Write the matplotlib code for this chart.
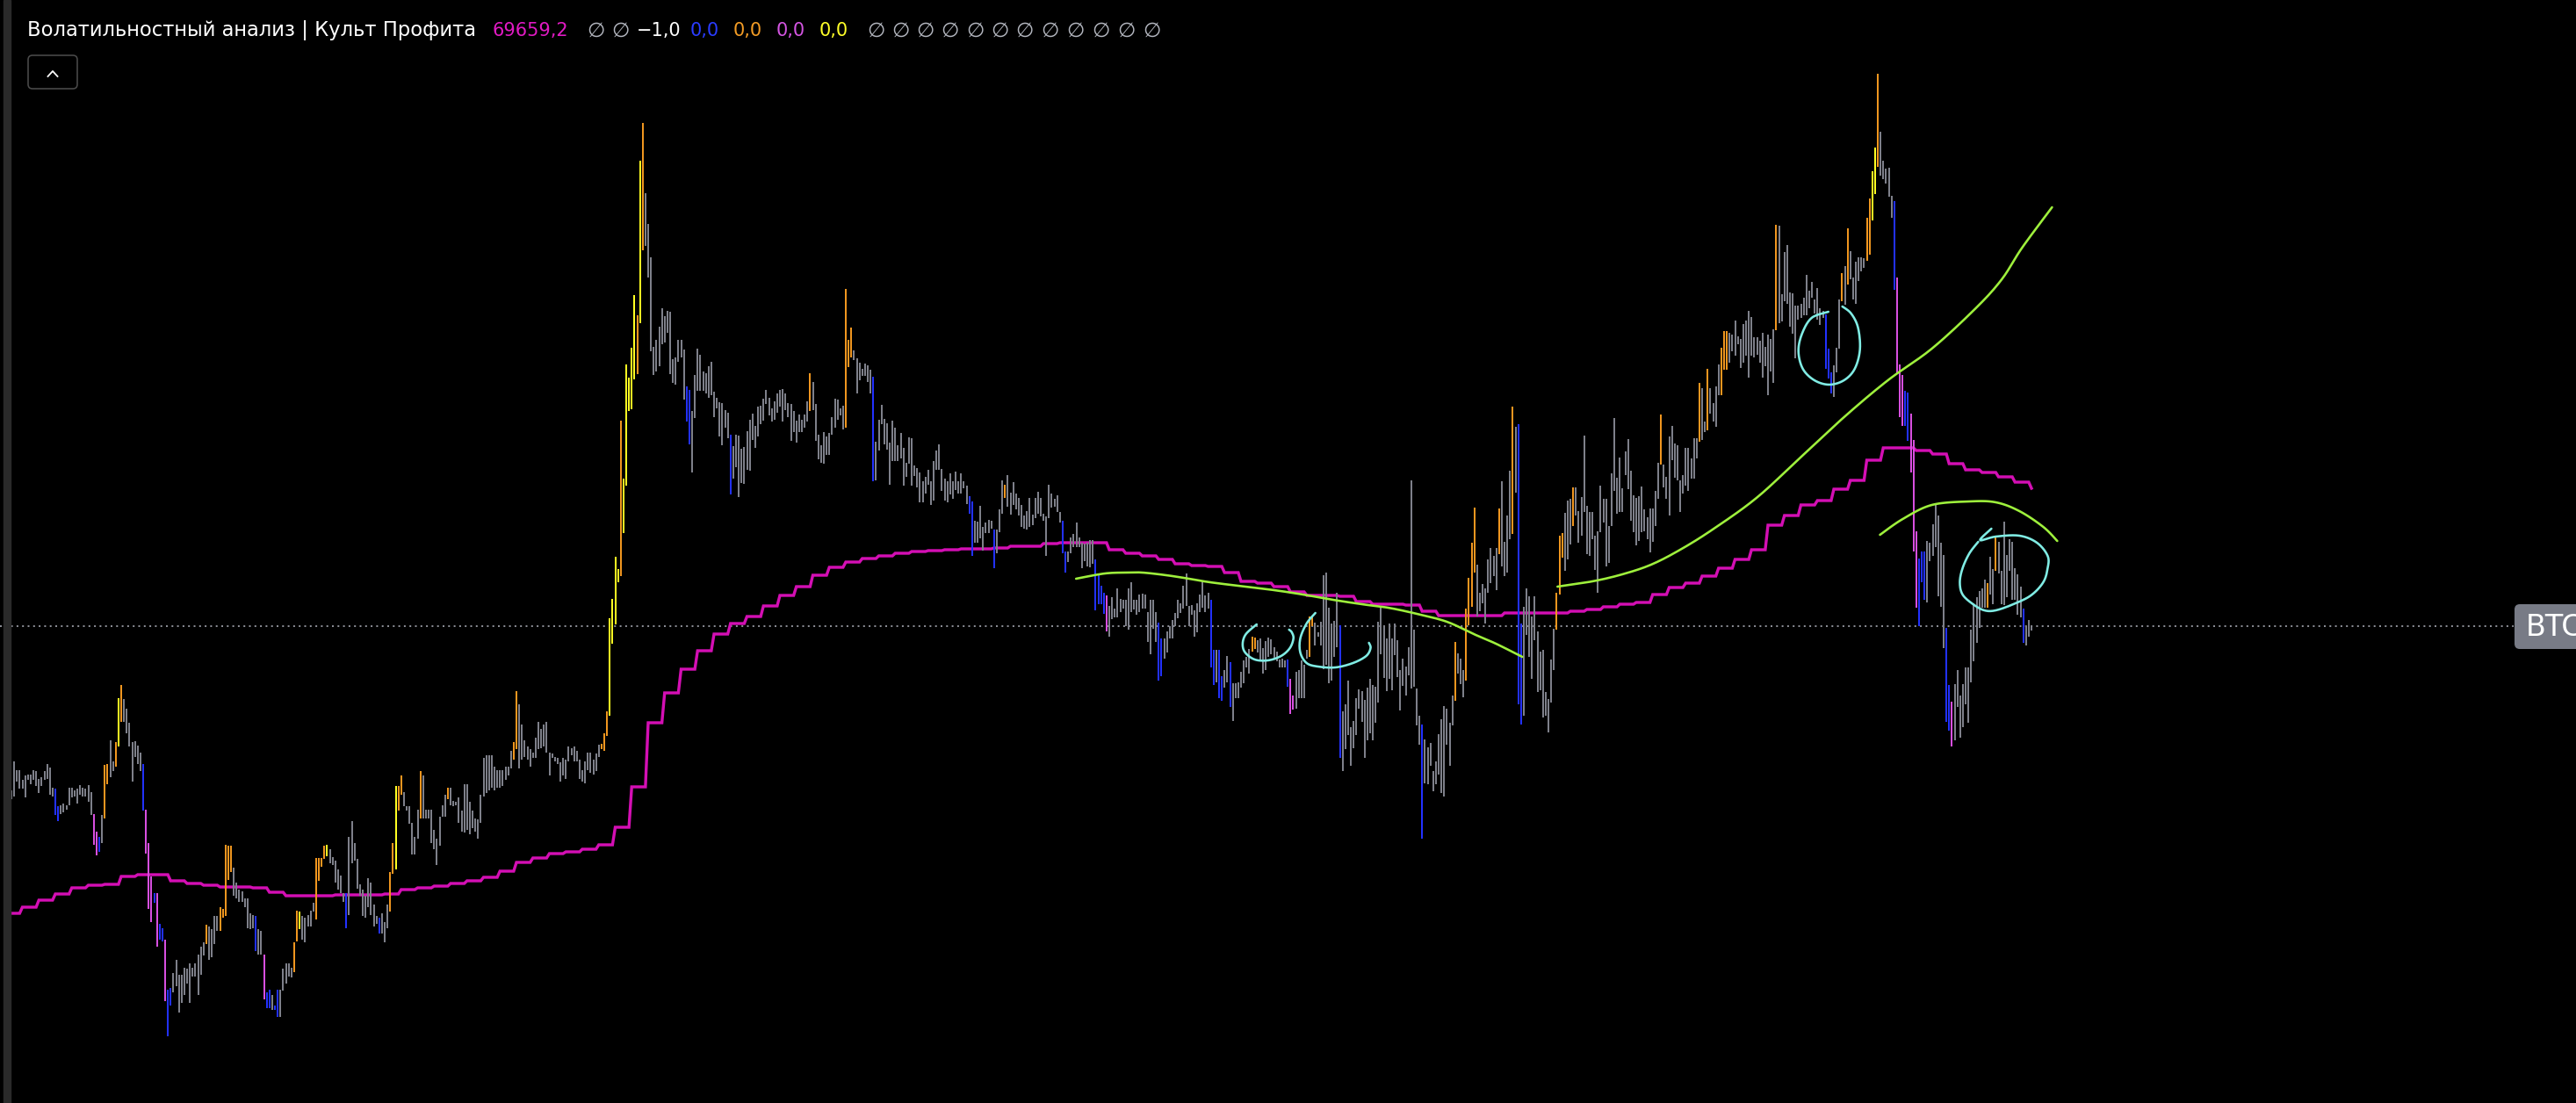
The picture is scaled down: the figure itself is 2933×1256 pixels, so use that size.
import numpy as np
import matplotlib
matplotlib.use("Agg")
import matplotlib.pyplot as plt
from matplotlib.patches import FancyBboxPatch, Rectangle

# ---------------- data (price index units) ----------------
highs = [
356,389,379,379,368,373,374,374,379,378,
369,371,378,386,382,359,358,338,339,341,
339,359,359,356,358,362,359,358,362,354,
329,309,303,328,385,386,413,389,411,461,
476,460,449,433,411,412,407,399,386,334,
296,258,239,239,204,199,186,129,131,148,
163,146,146,154,153,159,154,159,169,178,
183,203,201,198,213,213,223,221,294,293,
293,268,251,243,241,233,233,216,214,213,
198,196,169,126,129,123,111,129,129,153,
159,159,154,183,219,218,213,211,214,219,
228,279,279,279,293,294,289,280,276,266,
259,239,239,303,321,296,278,249,243,236,
256,251,226,213,211,216,206,226,263,296,
361,361,373,354,338,338,319,303,334,378,
373,334,334,334,311,301,326,339,351,359,
359,344,343,348,333,363,363,343,333,324,
323,351,393,396,396,396,383,379,379,379,
383,383,401,411,469,454,431,413,406,403,
399,416,434,426,431,434,399,398,394,393,
388,393,391,406,404,406,401,391,379,389,
399,399,391,398,408,409,421,446,552,574,
622,608,777,711,841,826,860,920,897,1073,
1116,1036,1001,963,861,869,884,905,896,902,
901,847,849,869,869,858,816,812,788,829,
859,852,833,831,839,844,810,803,798,797,
789,786,761,748,761,760,745,747,765,778,
785,771,793,794,802,812,803,791,799,808,
812,813,808,797,796,788,777,784,778,784,
799,831,821,796,761,749,764,759,763,781,
802,801,791,794,927,869,883,857,848,843,
836,842,840,835,827,753,778,795,779,774,
752,777,769,749,763,746,729,758,757,726,
723,718,708,713,721,708,731,743,750,722,
711,708,717,708,719,708,717,708,703,691,
685,663,662,680,656,661,664,663,653,653,
676,709,704,715,695,707,694,689,681,669,
674,689,670,689,696,689,671,668,704,694,
688,692,673,663,628,628,644,648,661,644,
638,637,638,641,641,619,603,589,581,578,
566,576,563,586,574,573,573,586,593,573,
573,579,580,579,559,573,573,559,547,529,
529,537,543,550,558,573,569,589,603,566,
567,561,569,579,595,578,581,573,516,516,
516,486,493,509,502,478,478,479,491,504,
508,517,531,530,527,529,518,526,530,528,
519,514,505,506,504,505,483,464,491,493,
504,499,516,554,554,547,536,548,601,604,
564,546,549,581,544,446,454,481,428,435,
461,471,469,459,473,483,476,474,548,564,
544,529,546,529,546,527,493,506,497,519,
709,539,472,441,431,414,405,410,378,389,
420,437,452,449,433,464,525,512,506,493,
563,598,638,678,613,581,591,586,619,632,
623,632,677,708,639,669,720,793,770,773,
546,565,586,577,554,577,537,514,516,468,
460,505,540,581,646,649,672,686,688,701,
701,674,690,760,680,673,673,646,651,703,
688,688,657,717,780,712,735,700,742,756,
720,692,689,691,702,676,667,677,677,697,
729,784,727,713,759,771,751,749,709,715,
746,746,734,757,757,820,814,776,836,814,
797,816,841,860,879,879,877,875,891,873,
870,887,891,902,895,872,872,868,877,861,
875,870,881,1000,999,921,969,977,923,922,
908,908,910,917,943,925,935,915,928,905,
902,898,859,832,840,860,915,945,953,996,
970,940,958,963,963,962,1008,1030,1061,1088,
1172,1106,1073,1064,1065,1033,1027,940,841,829,
811,809,785,755,651,620,628,628,640,638,
659,683,669,638,624,541,476,457,477,493,
464,477,496,496,539,569,576,583,586,596,
592,622,608,644,639,606,662,624,642,639,
609,602,588,563,543,550,542]

lows = [
346,349,366,358,358,348,368,363,368,361,
353,361,368,369,351,349,328,321,329,331,
334,339,348,349,341,351,349,349,343,328,
294,282,286,296,324,363,371,378,383,406,
434,434,421,406,366,394,386,378,333,284,
221,206,228,178,186,184,116,76,111,126,
133,103,114,123,136,114,144,144,123,146,
168,181,163,166,181,196,196,211,213,254,
263,236,233,229,229,223,199,198,199,173,
169,169,118,108,108,106,106,98,98,128,
136,144,143,149,184,198,186,183,201,201,
218,209,253,269,278,281,273,271,251,243,
239,229,199,214,273,276,244,236,213,211,
223,214,201,204,193,193,183,199,218,261,
266,333,351,338,333,318,283,283,301,324,
324,324,324,296,289,271,293,326,326,346,
339,338,339,319,309,308,311,306,313,309,
301,319,349,353,356,359,356,359,359,361,
368,373,381,391,403,381,391,394,391,383,
393,393,403,404,406,399,373,393,389,386,
366,373,369,389,396,389,389,369,366,364,
379,376,374,378,394,403,401,418,441,523,
545,593,600,649,703,788,790,824,830,888,
971,976,940,856,829,833,839,864,866,877,
830,820,818,844,849,801,776,750,718,780,
811,811,811,808,803,806,781,791,759,749,
769,757,693,711,724,690,706,705,721,720,
755,746,759,773,777,796,783,776,778,786,
793,776,789,781,754,764,752,764,764,769,
776,788,789,754,733,729,728,738,738,761,
769,778,783,767,769,838,849,846,808,823,
828,828,821,808,708,709,743,773,750,744,
704,731,731,731,734,703,713,728,703,714,
701,684,684,694,704,681,686,721,721,697,
686,684,693,688,698,694,694,700,682,671,
623,638,638,643,629,649,649,654,609,626,
650,671,689,679,670,681,676,669,656,654,
653,656,658,666,671,668,663,623,666,678,
679,673,661,626,604,616,626,633,633,633,
609,617,611,610,614,561,568,568,557,537,
531,551,553,553,559,563,543,539,559,562,
556,559,563,563,525,511,540,525,481,486,
506,513,529,529,543,552,558,563,566,543,
556,531,536,559,564,559,563,496,476,479,
461,458,473,479,451,435,461,461,473,478,
496,489,514,517,513,504,489,493,508,511,
506,503,496,496,496,474,443,448,449,461,
461,461,506,508,543,521,531,521,494,499,
478,481,508,519,393,378,403,419,384,404,
419,449,434,393,413,421,413,433,456,511,
484,469,483,470,510,485,447,475,464,487,
472,474,430,408,301,364,363,384,355,363,
374,353,349,408,384,430,458,489,477,462,
481,544,565,604,554,560,569,546,581,592,
600,584,625,611,600,604,642,648,695,454,
431,441,533,508,483,527,468,470,439,441,
422,456,493,539,579,621,606,619,636,657,
669,638,646,673,625,623,642,607,581,650,
661,611,615,657,697,671,673,673,715,699,
663,650,635,640,650,651,642,627,639,657,
688,727,701,688,669,732,712,709,673,694,
703,697,711,711,734,753,755,764,766,785,
776,770,806,806,835,835,843,856,851,864,
837,843,851,826,851,849,852,843,826,839,
806,833,820,880,888,890,913,910,884,876,
848,892,894,897,897,905,917,899,892,886,
894,836,825,808,804,832,859,913,909,932,
938,915,910,936,947,951,959,966,1005,1035,
1066,1056,1052,1047,1032,1008,926,830,781,771,
771,754,718,628,564,543,593,573,570,617,
623,633,577,565,518,434,424,406,413,451,
416,428,454,433,479,503,524,541,564,564,
564,579,568,606,603,568,567,576,606,573,
573,556,553,524,521,531,538]

# bar colour class: g=neutral, b=blue, o=orange, y=yellow, p=violet
bar_class = (
"gggggggggg" "ggggggbbgg" "gggggggggg" "ppbgooggoy" "ogggggggbp"
"ppbpbbpbbg" "gggggggggg" "goggggoooo" "oggggggggb" "ggpbbgbbgg"
"gggooygggg" "gooooygggg" "ggbggggggg" "ggggbgggoo" "yooggggggo"
"gggggggggo" "gggggggggg" "gggggggggg" "gggooggggg" "gggggggggg"
"gggggggggg" "gggggoooyy" "yyoyyyyyoy" "oggggggggg" "ggggggbbgg"
"gggggggggg" "ggbggggggg" "gggggggggg" "gggggggggg" "gogggggggg"
"ggggoooggg" "ggggbggggg" "gggggggggg" "gggggggggg" "gggggggggb"
"bgggggggbg" "ggoggggggg" "gggggggggg" "gggbbggggg" "gggggbbbbp"
"gggggggggg" "ggggggggbb" "gggggggggg" "gggggggbbg" "bbggbggggg"
"ggoogggggg" "gggggbppgg" "gggooggggg" "ggggbggggg" "gggggggggg"
"gggggggggg" "ggggbggggg" "ggggggoggg" "oooogggggg" "ggoggggogb"
"bggggggggg" "gggooogggo" "gggggggggg" "gggggggggg" "gggggggggg"
"gogggggggg" "gggggoggog" "gggooogggg" "gggggggggg" "gggogggggg"
"gggggggggg" "gbbbgggogo" "ggggggooyy" "ogggggbppp" "bbpppbbbgg"
"gggggbbpgg" "gggggggggg" "oggogggggg" "gggbggg")

# higher-timeframe level (one value per 6 bars)
level_steps = [
216,223,231,238,245,248,249,258,260,260,253,250,248,246,246,245,240,236,236,236,
237,237,237,238,243,245,247,250,253,257,264,274,279,284,286,289,294,314,360,433,
467,494,515,534,546,554,566,578,588,601,610,616,620,623,626,628,629,630,631,631,
632,634,634,637,638,638,638,630,626,623,619,614,612,611,604,594,592,588,582,578,
578,577,571,568,568,567,560,555,555,555,555,558,558,558,558,560,562,565,568,570,
579,587,592,600,609,619,630,658,669,681,686,699,709,732,746,746,743,739,728,721,
718,713,707,700]

last_price = 543

header_title = "Волатильностный анализ | Культ Профита"
header_value = "69659,2"
header_values = ["−1,0", "0,0", "0,0", "0,0", "0,0"]
symbol = "BTC"

# hand-drawn annotations: (bar index, price)
green_1 = [(387.9,597),(398.4,603),(406.7,604),(412.1,604),(420.8,601),(429.1,597),
           (436.7,593),(449.5,588),(460.1,584),(470.6,579),(481.5,573),(492.0,568),
           (501.6,564),(512.1,557),(523.0,548),(533.5,533),(540.9,523),(550.5,508)]
green_2 = [(563.3,588),(576.0,594),(586.9,602),(597.4,613),(608.0,630),(619.8,653),
           (635.8,689),(651.8,735),(667.7,781),(683.7,823),(699.7,859),(715.7,905),
           (725.2,938),(732.6,974),(743.5,1020)]
green_3 = [(680.8,647),(689.1,665),(699.7,681),(713.4,685),(723.0,684),(731.6,674),
           (740.3,656),(745.4,640)]
cyan_1 = [(662.0,901),(655.9,894),(652.4,876),(651.1,856),(652.7,836),(656.9,823),
          (662.3,818),(667.7,823),(671.6,836),(673.5,858),(672.8,883),(670.3,899),(667.1,907)]
cyan_2 = [(721.4,654),(717.3,641),(723.0,645),(731.6,646),(738.0,638),(741.9,623),
          (741.9,609),(740.3,593),(735.8,578),(729.4,568),(723.0,561),(718.8,561),
          (714.7,568),(710.9,579),(709.9,593),(710.9,609),(713.4,626),(716.6,639)]
cyan_a = [(453.7,545),(449.8,534),(448.6,523),(449.5,513),(453.0,505),(457.8,504),
          (462.6,509),(465.8,518),(467.1,529),(466.5,536),(465.5,539)]
cyan_b = [(475.1,558),(471.9,546),(469.6,529),(469.6,513),(471.9,501),(476.0,497),
          (482.4,496),(488.8,501),(493.6,509),(495.2,518),(494.6,524)]

# ---------------- drawing ----------------
n = min(len(highs), len(lows), len(bar_class))
idx = np.arange(n)
hi = np.array(highs[:n], float)
lo = np.array(lows[:n], float)

W, H, DPI = 2933, 1256, 100
fig = plt.figure(figsize=(W / DPI, H / DPI), dpi=DPI, facecolor="black")
ax = fig.add_axes([0, 0, 1, 1])
ax.set_facecolor("black")
ax.set_axis_off()
X0, DX = 13.0, 3.125
ax.set_xlim(-X0 / DX, (W - X0) / DX)
ax.set_ylim(0, H)
PX = 72.0 / DPI  # one pixel in points

cmap = {"g": "#7e808a", "b": "#2231ff", "o": "#f0961f", "y": "#ffff22", "p": "#d84fe0"}
cols = [cmap[c] for c in bar_class[:n]]

plt.rcParams["lines.scale_dashes"] = False
x_end = (2862 - X0) / DX
ax.plot([-X0 / DX, x_end], [last_price, last_price], color="#8a8c94",
        lw=2 * PX, dashes=(2 * PX, 4.3 * PX), zorder=1)

level = np.array(level_steps)[np.minimum((idx + 2) // 6, len(level_steps) - 1)]
ax.plot(idx, level, color="#d40fb4", lw=3.4 * PX, zorder=2, solid_joinstyle="miter")

ax.vlines(idx, lo, hi, colors=cols, linewidth=2 * PX, antialiased=False, zorder=3)


def smooth(pts, k=14):
    P = np.array(pts, float)
    P = np.vstack([P[0], P, P[-1]])
    out = []
    t = np.linspace(0, 1, k, endpoint=False)[:, None]
    for i in range(1, len(P) - 2):
        p0, p1, p2, p3 = P[i - 1], P[i], P[i + 1], P[i + 2]
        out.append(0.5 * (2 * p1 + (-p0 + p2) * t + (2 * p0 - 5 * p1 + 4 * p2 - p3) * t ** 2
                          + (-p0 + 3 * p1 - 3 * p2 + p3) * t ** 3))
    out.append(P[-2][None])
    return np.vstack(out)


for g in (green_1, green_2, green_3):
    s = smooth(g)
    ax.plot(s[:, 0], s[:, 1], color="#9ef03c", lw=2.6 * PX, zorder=4, solid_capstyle="round")
for c in (cyan_1, cyan_2, cyan_a, cyan_b):
    s = smooth(c)
    ax.plot(s[:, 0], s[:, 1], color="#80ece4", lw=2.6 * PX, zorder=5, solid_capstyle="round")

# overlay in pixel coordinates for chrome / header
ov = fig.add_axes([0, 0, 1, 1], facecolor="none")
ov.set_xlim(0, W)
ov.set_ylim(H, 0)
ov.set_axis_off()
ov.add_patch(Rectangle((4, 0), 8, H, color="#2a2a2a", zorder=1))

FS = 15
fam = ["DejaVu Sans"]
t = ov.text(31, 41, header_title, color="white", fontsize=FS, family=fam, va="baseline")
fig.canvas.draw()
r = fig.canvas.get_renderer()
wpx = t.get_window_extent(r).width
t.set_fontsize(FS * 512.0 / wpx)

ov.text(561, 41, header_value, color="#e11ac3", fontsize=FS, family=fam, va="baseline")
empty = "\u2205"
ecol = "#b2b5be"
ESZ = FS * 1.12
for x in (668, 696):
    ov.text(x, 41.5, empty, color=ecol, fontsize=ESZ, family=fam, va="baseline")
vcols = ["white", "#2a3cff", "#f39c25", "#d455e2", "#ffff28"]
for x, s, c in zip((725, 786, 835, 884, 933), header_values, vcols):
    ov.text(x, 41, s, color=c, fontsize=FS, family=fam, va="baseline")
for x in (987, 1015, 1043, 1071, 1100, 1128, 1156, 1185, 1214, 1243, 1272, 1301):
    ov.text(x, 41.5, empty, color=ecol, fontsize=ESZ, family=fam, va="baseline")

# collapse button
ov.add_patch(FancyBboxPatch((32, 63), 56, 38, boxstyle="round,pad=0,rounding_size=5",
                            fc="black", ec="#4a4a4a", lw=1.6 * PX, zorder=2))
ov.plot([54.5, 60, 65.5], [87, 81, 87], color="white", lw=1.8 * PX, zorder=3)

# price label (cut by the right edge, as in the source)
ov.add_patch(FancyBboxPatch((2863, 688), 120, 51, boxstyle="round,pad=0,rounding_size=6",
                            fc="#787b86", ec="none", zorder=2))
ov.text(2876, 714, symbol, color="white", fontsize=24, family=fam, va="center", ha="left", zorder=3)

fig.savefig("out.png", dpi=DPI, facecolor="black")
